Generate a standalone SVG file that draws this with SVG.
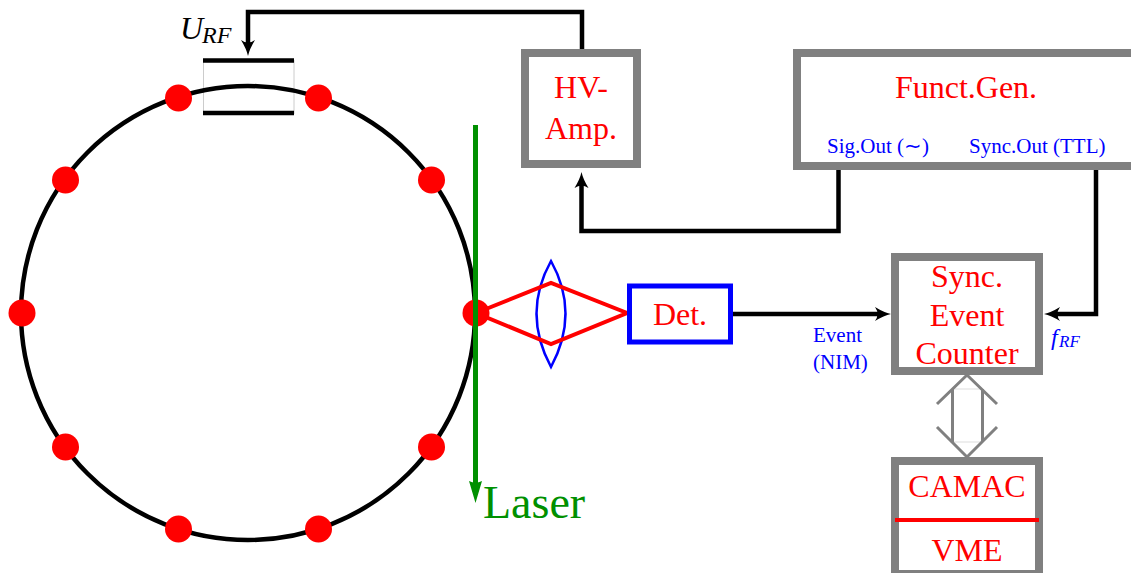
<svg xmlns="http://www.w3.org/2000/svg" width="1131" height="573" viewBox="0 0 1131 573">
<style>
text{font-family:"Liberation Serif","Times New Roman",serif}
.r{fill:#f00;font-size:32px;text-anchor:middle}
.b{fill:#00f;font-size:21px}
.box{fill:#fff;stroke:#808080;stroke-width:8}
.w{fill:none;stroke:#000;stroke-width:4.500}
.dot{fill:#f00}
</style>
<defs>
<marker id="ah" markerUnits="userSpaceOnUse" markerWidth="18" markerHeight="16" refX="7" refY="8" orient="auto"><path d="M0 1Q9 6.500 16 8Q9 9.500 0 15Q5 8 0 1Z" fill="#000"/></marker>
</defs>
<g id="ring">
<rect x="203.500" y="60.500" width="90.500" height="53" fill="#fff" stroke="#ccc" stroke-width="1"/>
<circle cx="248" cy="313" r="227" fill="none" stroke="#000" stroke-width="4.500"/>
<path class="w" d="M203 60.500H294M203 113H294"/>
<circle class="dot" cx="178.500" cy="98" r="13.500"/>
<circle class="dot" cx="318.500" cy="98" r="13.500"/>
<circle class="dot" cx="431.500" cy="180" r="13.500"/>
<circle class="dot" cx="65.500" cy="180" r="13.500"/>
<circle class="dot" cx="22" cy="313" r="13.500"/>
<circle class="dot" cx="476" cy="313" r="13.500"/>
<circle class="dot" cx="65.500" cy="447" r="13.500"/>
<circle class="dot" cx="431.500" cy="447" r="13.500"/>
<circle class="dot" cx="178.500" cy="529" r="13.500"/>
<circle class="dot" cx="318.500" cy="529" r="13.500"/>
<text x="180" y="39" font-size="32" font-style="italic" fill="#000">U</text>
<text x="202" y="43" font-size="24" font-style="italic" fill="#000">RF</text>
</g>
<g id="connectors">
<path class="w" d="M582 49V12H248V47" marker-end="url(#ah)"/>
<path class="w" d="M838.500 170V231H581.500V181" marker-end="url(#ah)"/>
<path class="w" d="M1096 170V314H1053" marker-end="url(#ah)"/>
<path class="w" d="M733 314H882" marker-end="url(#ah)"/>
</g>
<g id="lens"><path d="M551 261Q522 313 551 367Q580 313 551 261Z" fill="none" stroke="#00f" stroke-width="2.500"/></g>
<g id="rays"><path d="M476 313L551 283L627 313L551 344Z" fill="none" stroke="#f00" stroke-width="4"/></g>
<g id="laser">
<path d="M475.500 125V484" fill="none" stroke="#009000" stroke-width="5"/>
<path d="M469 481Q475.500 484 482 481L475.500 503Z" fill="#009000"/>
<text x="483" y="518" font-size="46" fill="#009000">Laser</text>
</g>
<g id="det">
<rect x="629.500" y="286" width="101" height="56" fill="#fff" stroke="#00f" stroke-width="5"/>
<text class="r" x="680" y="325">Det.</text>
</g>
<g id="hv-amp">
<rect class="box" x="525" y="53" width="112" height="111"/>
<text class="r" x="581" y="98">HV-</text>
<text class="r" x="581" y="139">Amp.</text>
</g>
<g id="funct-gen">
<rect class="box" x="797" y="53" width="350" height="113"/>
<text class="r" x="966" y="98">Funct.Gen.</text>
<text class="b" x="827" y="153">Sig.Out (∼)</text>
<text class="b" x="969" y="153">Sync.Out (TTL)</text>
</g>
<g id="sync-counter">
<rect class="box" x="895" y="257" width="144" height="114"/>
<text class="r" x="967" y="287">Sync.</text>
<text class="r" x="967" y="326">Event</text>
<text class="r" x="967" y="364">Counter</text>
</g>
<g id="camac">
<rect class="box" x="895" y="461" width="144" height="113"/>
<text class="r" x="967" y="497">CAMAC</text>
<path d="M895 520H1039" stroke="#f00" stroke-width="4"/>
<text class="r" x="967" y="561">VME</text>
</g>
<g id="bus">
<path d="M953 389H982M953 442H982" stroke="#ddd" stroke-width="1" fill="none"/>
<path d="M952.500 389V442M982.500 389V442M937 404L967 375L997 404M937 427L967 457L997 427" fill="none" stroke="#808080" stroke-width="3"/>
</g>
<g id="labels">
<text class="b" x="813" y="342">Event</text>
<text class="b" x="813" y="369">(NIM)</text>
<text x="1051" y="345" font-size="24" font-style="italic" fill="#00f">f</text>
<text x="1059" y="347" font-size="17" font-style="italic" fill="#00f">RF</text>
</g>
</svg>
